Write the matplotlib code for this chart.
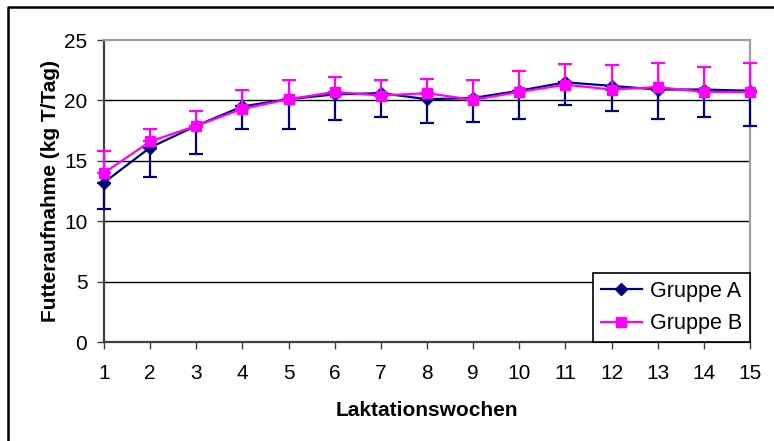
import matplotlib.pyplot as plt
from matplotlib.lines import Line2D

plt.rcParams['font.family'] = ['Liberation Sans', 'DejaVu Sans']

weeks = list(range(1, 16))
gruppe_a = [13.2, 16.1, 17.9, 19.5, 20.1, 20.5, 20.6, 20.1, 20.2, 20.8, 21.5, 21.2, 20.9, 20.9, 20.8]
gruppe_a_sd = [2.2, 2.4, 2.3, 1.9, 2.5, 2.1, 2.0, 2.0, 2.0, 2.3, 1.9, 2.1, 2.4, 2.3, 2.9]
gruppe_b = [14.0, 16.6, 17.9, 19.3, 20.1, 20.7, 20.4, 20.6, 20.05, 20.7, 21.3, 20.9, 21.1, 20.7, 20.7]
gruppe_b_sd = [1.8, 1.0, 1.2, 1.6, 1.6, 1.2, 1.3, 1.2, 1.65, 1.7, 1.7, 2.05, 2.0, 2.1, 2.4]

navy = '#000080'
magenta = '#FF00FF'

fig = plt.figure(figsize=(7.74, 4.41), dpi=100)
ax = fig.add_axes([104 / 774, 1 - 342 / 441, 646 / 774, 302 / 441])

# chart frame: only the left and top edges fall inside the image
fig.add_artist(Line2D([8 / 774, 8 / 774, 1], [0, 1 - 7 / 441, 1 - 7 / 441],
                      transform=fig.transFigure, color='black', linewidth=1.8))

for y in [5, 10, 15, 20]:
    ax.axhline(y, color='black', linewidth=1, zorder=1)

ea = ax.errorbar(weeks, gruppe_a, yerr=[gruppe_a_sd, [0] * 15], color=navy, marker='D',
                 markersize=6, linewidth=1.6, capsize=5, capthick=1.6, elinewidth=1.6,
                 label='Gruppe A', zorder=3)
eb = ax.errorbar(weeks, gruppe_b, yerr=[[0] * 15, gruppe_b_sd], color=magenta, marker='s',
                 markersize=6.5, linewidth=1.6, capsize=5, capthick=1.6, elinewidth=1.6,
                 label='Gruppe B', zorder=4)
for cont in (ea, eb):
    for art in cont.get_children():
        art.set_clip_on(False)

ax.set_xlim(1, 15)
ax.set_ylim(0, 25)
ax.set_xticks(weeks)
ax.set_yticks([0, 5, 10, 15, 20, 25])
ax.tick_params(labelsize=15, length=5, width=1, color='#404040', direction='out')
ax.tick_params(axis='x', pad=11)
ax.tick_params(axis='y', pad=7)
for s in ['left', 'bottom']:
    ax.spines[s].set_color('#404040')
    ax.spines[s].set_linewidth(1.6)
for s in ['top', 'right']:
    ax.spines[s].set_color('#a0a0a0')
    ax.spines[s].set_linewidth(1.6)
for s in ax.spines.values():
    s.set_zorder(2)

ax.set_xlabel('Laktationswochen', fontsize=15, fontweight='bold', labelpad=13)
ax.set_ylabel('Futteraufnahme (kg T/Tag)', fontsize=15, fontweight='bold', labelpad=3)

handles, labels = ax.get_legend_handles_labels()
leg = ax.legend([h[0] for h in handles], labels, loc='lower right', fontsize=15.5,
                frameon=True, fancybox=False, framealpha=1, edgecolor='black',
                borderaxespad=0, handlelength=1.9, handletextpad=0.4,
                borderpad=0.35, labelspacing=0.55)
leg.get_frame().set_linewidth(1.2)
leg.set_zorder(5)

fig.savefig('out.png', dpi=100)
